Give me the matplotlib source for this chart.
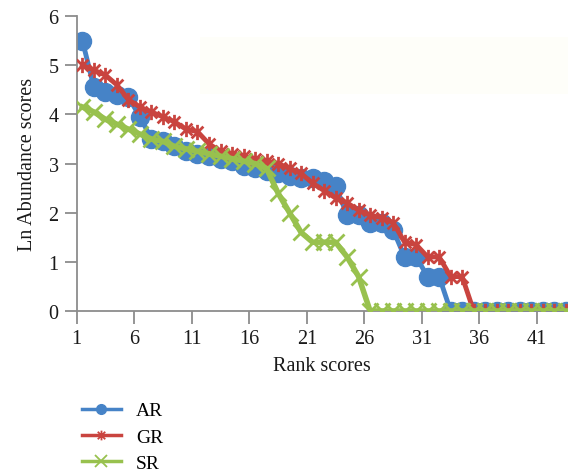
import numpy as np
import matplotlib
matplotlib.use("Agg")
import matplotlib.pyplot as plt
from matplotlib.path import Path
from matplotlib.lines import Line2D
from matplotlib.patches import Rectangle

# rank-abundance data (ln of counts), ranks 1..44
ranks = np.arange(1, 45)
ar_vals = [5.5, 4.55, 4.45, 4.4, 4.35, 3.95, 3.5, 3.45, 3.35, 3.25,
           3.2, 3.15, 3.1, 3.05, 2.95, 2.9, 2.85, 2.8, 2.75, 2.7,
           2.7, 2.65, 2.55, 1.95, 1.95, 1.8, 1.8, 1.65, 1.1, 1.1,
           0.7, 0.7] + [0.0] * 12
gr_vals = [5.0, 4.9, 4.8, 4.6, 4.3, 4.15, 4.05, 3.95, 3.85, 3.7,
           3.65, 3.4, 3.25, 3.2, 3.15, 3.1, 3.05, 3.0, 2.9, 2.8,
           2.6, 2.45, 2.3, 2.2, 2.05, 1.95, 1.9, 1.8, 1.4, 1.35,
           1.1, 1.1, 0.7, 0.7] + [0.0] * 10
sr_vals = [4.15, 4.05, 3.9, 3.8, 3.7, 3.6, 3.5, 3.45, 3.35, 3.3,
           3.25, 3.2, 3.15, 3.1, 3.05, 3.0, 2.9, 2.4, 2.0, 1.6,
           1.4, 1.4, 1.4, 1.1, 0.7] + [0.0] * 19
xtick_labels = ["1", "6", "11", "16", "21", "26", "31", "36", "41"]

blue = "#4683C7"
red = "#C9443F"
green = "#98C14E"
axis_gray = "#8C8C8C"
fs = 14.5

plt.rcParams["font.family"] = ["Liberation Serif", "DejaVu Serif"]

# Excel style star: X with a vertical bar
star = Path([(-1, -1), (1, 1), (-1, 1), (1, -1), (0, -1.3), (0, 1.3)],
            [Path.MOVETO, Path.LINETO, Path.MOVETO, Path.LINETO,
             Path.MOVETO, Path.LINETO])

fig = plt.figure(figsize=(5.68, 4.77), dpi=100)
ax = fig.add_axes([0.135, 0.346, 0.865, 0.618])

# faint box left in the original figure
ax.add_patch(Rectangle((0.25, 0.736), 0.75, 0.193, transform=ax.transAxes,
                       facecolor="#FEFEF9", edgecolor="none", zorder=0))

ax.plot(ranks, ar_vals, color=blue, lw=3.5, marker="o", ms=13,
        mec=blue, mfc=blue, zorder=2)
ax.plot(ranks, gr_vals, color=red, lw=3.5, marker=star, ms=11,
        mec=red, mew=2.0, zorder=3)
ax.plot(ranks, sr_vals, color=green, lw=4.0, marker="x", ms=11,
        mec=green, mew=2.0, zorder=4)

ax.set_xlim(0.5, 43.2)
ax.set_ylim(0, 6)
ax.set_xticks(np.arange(0.5, 43, 5))
ax.set_xticklabels(xtick_labels)
ax.set_yticks(range(0, 7))

for side in ["top", "right"]:
    ax.spines[side].set_visible(False)
for side in ["left", "bottom"]:
    ax.spines[side].set_color(axis_gray)
    ax.spines[side].set_linewidth(1.3)
ax.tick_params(direction="out", length=9, width=1.3, color=axis_gray,
               labelsize=fs, labelcolor="#1a1a1a", pad=4)

ax.set_xlabel("Rank scores", fontsize=fs, color="#1a1a1a", labelpad=6)
ax.set_ylabel("Ln Abundance scores", fontsize=fs, color="#1a1a1a", labelpad=8)

handles = [
    Line2D([], [], color=blue, lw=2.5, marker="o", ms=7, mfc=blue, mec=blue),
    Line2D([], [], color=red, lw=2.5, marker=star, ms=7, mec=red, mew=1.3),
    Line2D([], [], color=green, lw=2.5, marker="x", ms=8, mec=green, mew=1.3),
]
fig.legend(handles, ["AR", "GR", "SR"], loc="upper left",
           bbox_to_anchor=(0.13, 0.172), frameon=False, fontsize=14,
           handlelength=2.0, handletextpad=0.8, labelspacing=0.45,
           borderaxespad=0)

fig.savefig("out.png", dpi=100)
